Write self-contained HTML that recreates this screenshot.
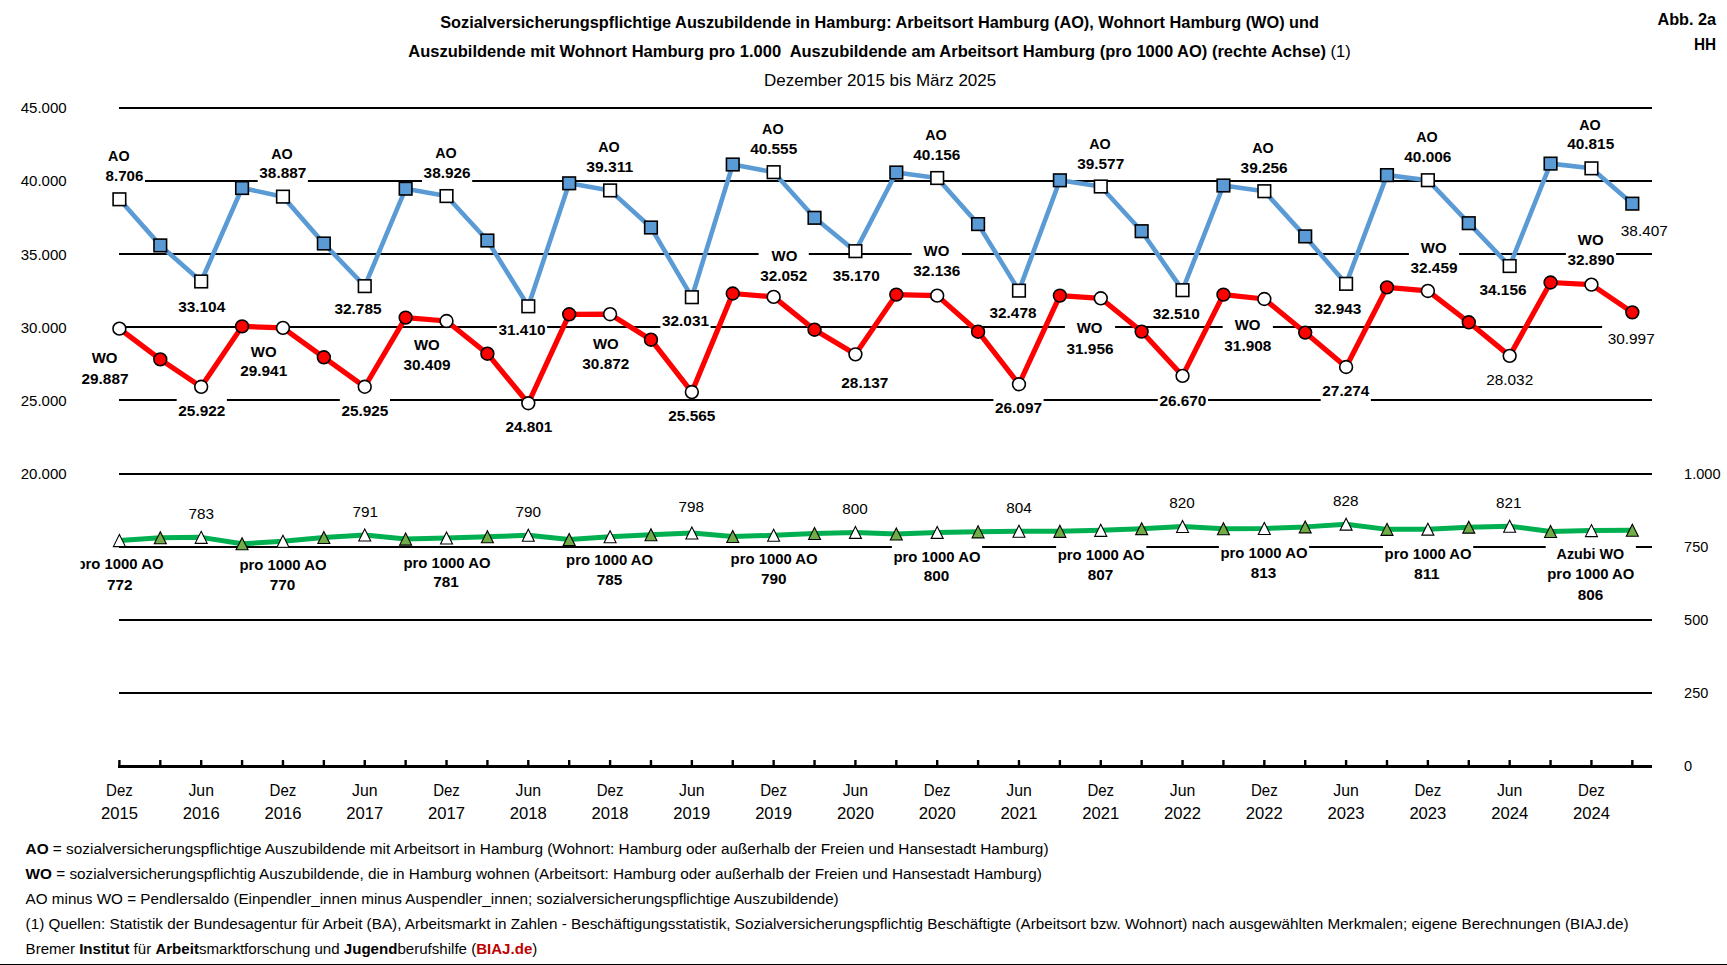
<!DOCTYPE html>
<html><head><meta charset="utf-8"><title>Abb. 2a HH</title>
<style>html,body{margin:0;padding:0;background:#fff;overflow:hidden}svg{display:block}text{font-family:"Liberation Sans",sans-serif}</style>
</head><body>
<svg width="1727" height="965" viewBox="0 0 1727 965" font-family="'Liberation Sans', sans-serif">
<defs><clipPath id="lc"><rect x="80.5" y="540" width="200" height="40"/></clipPath></defs>
<rect x="0" y="0" width="1727" height="965" fill="#fff"/>
<rect x="119" y="107" width="1533" height="2" fill="#000"/>
<rect x="119" y="180" width="1533" height="2" fill="#000"/>
<rect x="119" y="253" width="1533" height="2" fill="#000"/>
<rect x="119" y="326" width="1533" height="2" fill="#000"/>
<rect x="119" y="399" width="1533" height="2" fill="#000"/>
<rect x="119" y="473" width="1533" height="2" fill="#000"/>
<rect x="119" y="546" width="1533" height="2" fill="#000"/>
<rect x="119" y="619" width="1533" height="2" fill="#000"/>
<rect x="119" y="692" width="1533" height="2" fill="#000"/>
<rect x="104.0" y="145.2" width="41.0" height="40.5" fill="#fff"/>
<rect x="257.7" y="143.2" width="50.2" height="40.0" fill="#fff"/>
<rect x="422.0" y="142.6" width="50.2" height="39.9" fill="#fff"/>
<rect x="584.6" y="136.5" width="50.2" height="40.4" fill="#fff"/>
<rect x="748.6" y="118.4" width="50.2" height="40.4" fill="#fff"/>
<rect x="911.7" y="124.3" width="50.2" height="40.7" fill="#fff"/>
<rect x="1075.6" y="133.3" width="50.2" height="40.4" fill="#fff"/>
<rect x="1239.0" y="137.4" width="50.2" height="40.1" fill="#fff"/>
<rect x="1402.7" y="126.7" width="50.2" height="40.2" fill="#fff"/>
<rect x="1565.6" y="114.0" width="50.2" height="40.3" fill="#fff"/>
<rect x="1619.2" y="217.3" width="50.2" height="23.5" fill="#fff"/>
<rect x="176.6" y="293.1" width="50.2" height="23.5" fill="#fff"/>
<rect x="332.9" y="295.4" width="50.2" height="23.5" fill="#fff"/>
<rect x="496.9" y="316.7" width="50.2" height="23.5" fill="#fff"/>
<rect x="660.4" y="307.0" width="50.2" height="23.5" fill="#fff"/>
<rect x="831.1" y="262.1" width="50.2" height="23.5" fill="#fff"/>
<rect x="987.9" y="299.7" width="50.2" height="23.5" fill="#fff"/>
<rect x="1151.1" y="300.7" width="50.2" height="23.5" fill="#fff"/>
<rect x="1312.8" y="295.0" width="50.2" height="23.5" fill="#fff"/>
<rect x="1477.9" y="276.7" width="50.2" height="23.5" fill="#fff"/>
<rect x="79.9" y="347.4" width="50.2" height="41.1" fill="#fff"/>
<rect x="238.6" y="341.0" width="50.2" height="40.4" fill="#fff"/>
<rect x="401.9" y="334.0" width="50.2" height="40.5" fill="#fff"/>
<rect x="580.7" y="333.1" width="50.2" height="40.5" fill="#fff"/>
<rect x="758.6" y="245.2" width="50.2" height="40.4" fill="#fff"/>
<rect x="911.7" y="240.9" width="50.2" height="40.1" fill="#fff"/>
<rect x="1064.9" y="317.9" width="50.2" height="40.8" fill="#fff"/>
<rect x="1222.7" y="314.5" width="50.2" height="41.2" fill="#fff"/>
<rect x="1408.9" y="237.0" width="50.2" height="40.8" fill="#fff"/>
<rect x="1565.9" y="229.8" width="50.2" height="40.6" fill="#fff"/>
<rect x="1602.1" y="325.4" width="58.2" height="23.5" fill="#fff"/>
<rect x="176.7" y="397.9" width="50.2" height="23.5" fill="#fff"/>
<rect x="339.8" y="397.5" width="50.2" height="23.5" fill="#fff"/>
<rect x="503.8" y="413.8" width="50.2" height="23.5" fill="#fff"/>
<rect x="666.7" y="402.8" width="50.2" height="23.5" fill="#fff"/>
<rect x="839.7" y="369.2" width="50.2" height="23.5" fill="#fff"/>
<rect x="993.4" y="394.2" width="50.2" height="23.5" fill="#fff"/>
<rect x="1157.8" y="387.4" width="50.2" height="23.5" fill="#fff"/>
<rect x="1320.7" y="377.7" width="50.2" height="23.5" fill="#fff"/>
<rect x="1484.6" y="366.8" width="50.2" height="23.5" fill="#fff"/>
<rect x="75.0" y="553.4" width="90.0" height="41.3" fill="#fff"/>
<rect x="186.8" y="500.6" width="28.7" height="23.5" fill="#fff"/>
<rect x="350.8" y="498.2" width="28.7" height="23.5" fill="#fff"/>
<rect x="513.9" y="498.1" width="28.7" height="23.5" fill="#fff"/>
<rect x="676.9" y="493.9" width="28.7" height="23.5" fill="#fff"/>
<rect x="840.8" y="495.1" width="28.7" height="23.5" fill="#fff"/>
<rect x="1004.6" y="494.3" width="28.7" height="23.5" fill="#fff"/>
<rect x="1167.7" y="489.0" width="28.7" height="23.5" fill="#fff"/>
<rect x="1331.5" y="487.5" width="28.7" height="23.5" fill="#fff"/>
<rect x="1494.4" y="489.0" width="28.7" height="23.5" fill="#fff"/>
<rect x="237.9" y="554.5" width="90.2" height="40.7" fill="#fff"/>
<rect x="401.9" y="552.2" width="90.2" height="40.2" fill="#fff"/>
<rect x="564.5" y="549.7" width="90.2" height="40.7" fill="#fff"/>
<rect x="729.0" y="548.3" width="90.2" height="40.9" fill="#fff"/>
<rect x="891.9" y="546.0" width="90.2" height="39.9" fill="#fff"/>
<rect x="1056.1" y="544.3" width="90.2" height="40.4" fill="#fff"/>
<rect x="1218.9" y="542.3" width="90.2" height="40.7" fill="#fff"/>
<rect x="1383.0" y="543.8" width="90.2" height="39.8" fill="#fff"/>
<rect x="1545.7" y="543.8" width="90.2" height="61.3" fill="#fff"/>
<rect x="118" y="765" width="1534" height="3" fill="#000"/>
<rect x="118.20" y="760" width="2.4" height="6" fill="#000"/>
<rect x="159.09" y="760" width="2.4" height="6" fill="#000"/>
<rect x="199.98" y="760" width="2.4" height="6" fill="#000"/>
<rect x="240.87" y="760" width="2.4" height="6" fill="#000"/>
<rect x="281.76" y="760" width="2.4" height="6" fill="#000"/>
<rect x="322.65" y="760" width="2.4" height="6" fill="#000"/>
<rect x="363.54" y="760" width="2.4" height="6" fill="#000"/>
<rect x="404.43" y="760" width="2.4" height="6" fill="#000"/>
<rect x="445.32" y="760" width="2.4" height="6" fill="#000"/>
<rect x="486.21" y="760" width="2.4" height="6" fill="#000"/>
<rect x="527.10" y="760" width="2.4" height="6" fill="#000"/>
<rect x="567.99" y="760" width="2.4" height="6" fill="#000"/>
<rect x="608.88" y="760" width="2.4" height="6" fill="#000"/>
<rect x="649.77" y="760" width="2.4" height="6" fill="#000"/>
<rect x="690.66" y="760" width="2.4" height="6" fill="#000"/>
<rect x="731.55" y="760" width="2.4" height="6" fill="#000"/>
<rect x="772.44" y="760" width="2.4" height="6" fill="#000"/>
<rect x="813.33" y="760" width="2.4" height="6" fill="#000"/>
<rect x="854.22" y="760" width="2.4" height="6" fill="#000"/>
<rect x="895.11" y="760" width="2.4" height="6" fill="#000"/>
<rect x="936.00" y="760" width="2.4" height="6" fill="#000"/>
<rect x="976.89" y="760" width="2.4" height="6" fill="#000"/>
<rect x="1017.78" y="760" width="2.4" height="6" fill="#000"/>
<rect x="1058.67" y="760" width="2.4" height="6" fill="#000"/>
<rect x="1099.56" y="760" width="2.4" height="6" fill="#000"/>
<rect x="1140.45" y="760" width="2.4" height="6" fill="#000"/>
<rect x="1181.34" y="760" width="2.4" height="6" fill="#000"/>
<rect x="1222.23" y="760" width="2.4" height="6" fill="#000"/>
<rect x="1263.12" y="760" width="2.4" height="6" fill="#000"/>
<rect x="1304.01" y="760" width="2.4" height="6" fill="#000"/>
<rect x="1344.90" y="760" width="2.4" height="6" fill="#000"/>
<rect x="1385.79" y="760" width="2.4" height="6" fill="#000"/>
<rect x="1426.68" y="760" width="2.4" height="6" fill="#000"/>
<rect x="1467.57" y="760" width="2.4" height="6" fill="#000"/>
<rect x="1508.46" y="760" width="2.4" height="6" fill="#000"/>
<rect x="1549.35" y="760" width="2.4" height="6" fill="#000"/>
<rect x="1590.24" y="760" width="2.4" height="6" fill="#000"/>
<rect x="1631.13" y="760" width="2.4" height="6" fill="#000"/>
<polyline points="119.40,199.28 160.29,245.40 201.18,281.46 242.07,188.00 282.96,196.63 323.85,243.50 364.74,286.14 405.63,188.70 446.52,196.06 487.41,240.50 528.30,306.32 569.19,183.30 610.08,190.41 650.97,227.50 691.86,297.21 732.75,164.50 773.64,172.16 814.53,217.80 855.42,251.16 896.31,172.50 937.20,178.01 978.09,224.10 1018.98,290.65 1059.87,180.30 1100.76,186.51 1141.65,231.20 1182.54,290.18 1223.43,185.50 1264.32,191.21 1305.21,236.40 1346.10,283.83 1386.99,175.10 1427.88,180.21 1468.77,223.20 1509.66,266.03 1550.55,163.60 1591.44,168.34 1632.33,203.67" fill="none" stroke="#5B9BD5" stroke-width="4.6" stroke-linejoin="round" stroke-linecap="round"/>
<polyline points="119.40,328.66 160.29,359.40 201.18,386.82 242.07,326.40 282.96,327.87 323.85,357.30 364.74,386.78 405.63,317.60 446.52,321.00 487.41,353.70 528.30,403.27 569.19,314.30 610.08,314.21 650.97,339.70 691.86,392.06 732.75,293.50 773.64,296.90 814.53,329.70 855.42,354.33 896.31,294.60 937.20,295.66 978.09,331.70 1018.98,384.26 1059.87,295.60 1100.76,298.31 1141.65,331.60 1182.54,375.85 1223.43,294.60 1264.32,299.01 1305.21,332.60 1346.10,366.99 1386.99,287.40 1427.88,290.93 1468.77,322.30 1509.66,355.87 1550.55,282.50 1591.44,284.60 1632.33,312.37" fill="none" stroke="#FF0000" stroke-width="5.2" stroke-linejoin="round" stroke-linecap="round"/>
<polyline points="119.40,540.60 160.29,537.81 201.18,537.37 242.07,543.82 282.96,541.18 323.85,537.47 364.74,535.02 405.63,539.09 446.52,537.95 487.41,536.77 528.30,535.31 569.19,539.54 610.08,536.78 650.97,534.71 691.86,532.97 732.75,536.51 773.64,535.31 814.53,533.47 855.42,532.38 896.31,533.95 937.20,532.38 978.09,531.84 1018.98,531.21 1059.87,531.35 1100.76,530.33 1141.65,528.67 1182.54,526.51 1223.43,528.74 1264.32,528.57 1305.21,526.88 1346.10,524.16 1386.99,529.36 1427.88,529.15 1468.77,527.16 1509.66,526.22 1550.55,531.50 1591.44,530.62 1632.33,530.31" fill="none" stroke="#00B050" stroke-width="5" stroke-linejoin="round" stroke-linecap="round"/>
<rect x="113.10" y="192.98" width="12.6" height="12.6" fill="#fff" stroke="#000" stroke-width="1.6"/>
<rect x="153.99" y="239.10" width="12.6" height="12.6" fill="#5B9BD5" stroke="#000" stroke-width="1.6"/>
<rect x="194.88" y="275.16" width="12.6" height="12.6" fill="#fff" stroke="#000" stroke-width="1.6"/>
<rect x="235.77" y="181.70" width="12.6" height="12.6" fill="#5B9BD5" stroke="#000" stroke-width="1.6"/>
<rect x="276.66" y="190.33" width="12.6" height="12.6" fill="#fff" stroke="#000" stroke-width="1.6"/>
<rect x="317.55" y="237.20" width="12.6" height="12.6" fill="#5B9BD5" stroke="#000" stroke-width="1.6"/>
<rect x="358.44" y="279.84" width="12.6" height="12.6" fill="#fff" stroke="#000" stroke-width="1.6"/>
<rect x="399.33" y="182.40" width="12.6" height="12.6" fill="#5B9BD5" stroke="#000" stroke-width="1.6"/>
<rect x="440.22" y="189.76" width="12.6" height="12.6" fill="#fff" stroke="#000" stroke-width="1.6"/>
<rect x="481.11" y="234.20" width="12.6" height="12.6" fill="#5B9BD5" stroke="#000" stroke-width="1.6"/>
<rect x="522.00" y="300.02" width="12.6" height="12.6" fill="#fff" stroke="#000" stroke-width="1.6"/>
<rect x="562.89" y="177.00" width="12.6" height="12.6" fill="#5B9BD5" stroke="#000" stroke-width="1.6"/>
<rect x="603.78" y="184.11" width="12.6" height="12.6" fill="#fff" stroke="#000" stroke-width="1.6"/>
<rect x="644.67" y="221.20" width="12.6" height="12.6" fill="#5B9BD5" stroke="#000" stroke-width="1.6"/>
<rect x="685.56" y="290.91" width="12.6" height="12.6" fill="#fff" stroke="#000" stroke-width="1.6"/>
<rect x="726.45" y="158.20" width="12.6" height="12.6" fill="#5B9BD5" stroke="#000" stroke-width="1.6"/>
<rect x="767.34" y="165.86" width="12.6" height="12.6" fill="#fff" stroke="#000" stroke-width="1.6"/>
<rect x="808.23" y="211.50" width="12.6" height="12.6" fill="#5B9BD5" stroke="#000" stroke-width="1.6"/>
<rect x="849.12" y="244.86" width="12.6" height="12.6" fill="#fff" stroke="#000" stroke-width="1.6"/>
<rect x="890.01" y="166.20" width="12.6" height="12.6" fill="#5B9BD5" stroke="#000" stroke-width="1.6"/>
<rect x="930.90" y="171.71" width="12.6" height="12.6" fill="#fff" stroke="#000" stroke-width="1.6"/>
<rect x="971.79" y="217.80" width="12.6" height="12.6" fill="#5B9BD5" stroke="#000" stroke-width="1.6"/>
<rect x="1012.68" y="284.35" width="12.6" height="12.6" fill="#fff" stroke="#000" stroke-width="1.6"/>
<rect x="1053.57" y="174.00" width="12.6" height="12.6" fill="#5B9BD5" stroke="#000" stroke-width="1.6"/>
<rect x="1094.46" y="180.21" width="12.6" height="12.6" fill="#fff" stroke="#000" stroke-width="1.6"/>
<rect x="1135.35" y="224.90" width="12.6" height="12.6" fill="#5B9BD5" stroke="#000" stroke-width="1.6"/>
<rect x="1176.24" y="283.88" width="12.6" height="12.6" fill="#fff" stroke="#000" stroke-width="1.6"/>
<rect x="1217.13" y="179.20" width="12.6" height="12.6" fill="#5B9BD5" stroke="#000" stroke-width="1.6"/>
<rect x="1258.02" y="184.91" width="12.6" height="12.6" fill="#fff" stroke="#000" stroke-width="1.6"/>
<rect x="1298.91" y="230.10" width="12.6" height="12.6" fill="#5B9BD5" stroke="#000" stroke-width="1.6"/>
<rect x="1339.80" y="277.53" width="12.6" height="12.6" fill="#fff" stroke="#000" stroke-width="1.6"/>
<rect x="1380.69" y="168.80" width="12.6" height="12.6" fill="#5B9BD5" stroke="#000" stroke-width="1.6"/>
<rect x="1421.58" y="173.91" width="12.6" height="12.6" fill="#fff" stroke="#000" stroke-width="1.6"/>
<rect x="1462.47" y="216.90" width="12.6" height="12.6" fill="#5B9BD5" stroke="#000" stroke-width="1.6"/>
<rect x="1503.36" y="259.73" width="12.6" height="12.6" fill="#fff" stroke="#000" stroke-width="1.6"/>
<rect x="1544.25" y="157.30" width="12.6" height="12.6" fill="#5B9BD5" stroke="#000" stroke-width="1.6"/>
<rect x="1585.14" y="162.04" width="12.6" height="12.6" fill="#fff" stroke="#000" stroke-width="1.6"/>
<rect x="1626.03" y="197.37" width="12.6" height="12.6" fill="#5B9BD5" stroke="#000" stroke-width="1.6"/>
<circle cx="119.40" cy="328.66" r="6.4" fill="#fff" stroke="#000" stroke-width="1.6"/>
<circle cx="160.29" cy="359.40" r="6.4" fill="#FF0000" stroke="#000" stroke-width="1.6"/>
<circle cx="201.18" cy="386.82" r="6.4" fill="#fff" stroke="#000" stroke-width="1.6"/>
<circle cx="242.07" cy="326.40" r="6.4" fill="#FF0000" stroke="#000" stroke-width="1.6"/>
<circle cx="282.96" cy="327.87" r="6.4" fill="#fff" stroke="#000" stroke-width="1.6"/>
<circle cx="323.85" cy="357.30" r="6.4" fill="#FF0000" stroke="#000" stroke-width="1.6"/>
<circle cx="364.74" cy="386.78" r="6.4" fill="#fff" stroke="#000" stroke-width="1.6"/>
<circle cx="405.63" cy="317.60" r="6.4" fill="#FF0000" stroke="#000" stroke-width="1.6"/>
<circle cx="446.52" cy="321.00" r="6.4" fill="#fff" stroke="#000" stroke-width="1.6"/>
<circle cx="487.41" cy="353.70" r="6.4" fill="#FF0000" stroke="#000" stroke-width="1.6"/>
<circle cx="528.30" cy="403.27" r="6.4" fill="#fff" stroke="#000" stroke-width="1.6"/>
<circle cx="569.19" cy="314.30" r="6.4" fill="#FF0000" stroke="#000" stroke-width="1.6"/>
<circle cx="610.08" cy="314.21" r="6.4" fill="#fff" stroke="#000" stroke-width="1.6"/>
<circle cx="650.97" cy="339.70" r="6.4" fill="#FF0000" stroke="#000" stroke-width="1.6"/>
<circle cx="691.86" cy="392.06" r="6.4" fill="#fff" stroke="#000" stroke-width="1.6"/>
<circle cx="732.75" cy="293.50" r="6.4" fill="#FF0000" stroke="#000" stroke-width="1.6"/>
<circle cx="773.64" cy="296.90" r="6.4" fill="#fff" stroke="#000" stroke-width="1.6"/>
<circle cx="814.53" cy="329.70" r="6.4" fill="#FF0000" stroke="#000" stroke-width="1.6"/>
<circle cx="855.42" cy="354.33" r="6.4" fill="#fff" stroke="#000" stroke-width="1.6"/>
<circle cx="896.31" cy="294.60" r="6.4" fill="#FF0000" stroke="#000" stroke-width="1.6"/>
<circle cx="937.20" cy="295.66" r="6.4" fill="#fff" stroke="#000" stroke-width="1.6"/>
<circle cx="978.09" cy="331.70" r="6.4" fill="#FF0000" stroke="#000" stroke-width="1.6"/>
<circle cx="1018.98" cy="384.26" r="6.4" fill="#fff" stroke="#000" stroke-width="1.6"/>
<circle cx="1059.87" cy="295.60" r="6.4" fill="#FF0000" stroke="#000" stroke-width="1.6"/>
<circle cx="1100.76" cy="298.31" r="6.4" fill="#fff" stroke="#000" stroke-width="1.6"/>
<circle cx="1141.65" cy="331.60" r="6.4" fill="#FF0000" stroke="#000" stroke-width="1.6"/>
<circle cx="1182.54" cy="375.85" r="6.4" fill="#fff" stroke="#000" stroke-width="1.6"/>
<circle cx="1223.43" cy="294.60" r="6.4" fill="#FF0000" stroke="#000" stroke-width="1.6"/>
<circle cx="1264.32" cy="299.01" r="6.4" fill="#fff" stroke="#000" stroke-width="1.6"/>
<circle cx="1305.21" cy="332.60" r="6.4" fill="#FF0000" stroke="#000" stroke-width="1.6"/>
<circle cx="1346.10" cy="366.99" r="6.4" fill="#fff" stroke="#000" stroke-width="1.6"/>
<circle cx="1386.99" cy="287.40" r="6.4" fill="#FF0000" stroke="#000" stroke-width="1.6"/>
<circle cx="1427.88" cy="290.93" r="6.4" fill="#fff" stroke="#000" stroke-width="1.6"/>
<circle cx="1468.77" cy="322.30" r="6.4" fill="#FF0000" stroke="#000" stroke-width="1.6"/>
<circle cx="1509.66" cy="355.87" r="6.4" fill="#fff" stroke="#000" stroke-width="1.6"/>
<circle cx="1550.55" cy="282.50" r="6.4" fill="#FF0000" stroke="#000" stroke-width="1.6"/>
<circle cx="1591.44" cy="284.60" r="6.4" fill="#fff" stroke="#000" stroke-width="1.6"/>
<circle cx="1632.33" cy="312.37" r="6.4" fill="#FF0000" stroke="#000" stroke-width="1.6"/>
<path d="M119.40 534.60L125.40 546.60L113.40 546.60Z" fill="#fff" stroke="#000" stroke-width="1.1" stroke-linejoin="miter"/>
<path d="M160.29 531.81L166.29 543.81L154.29 543.81Z" fill="#70AD47" stroke="#000" stroke-width="1.1" stroke-linejoin="miter"/>
<path d="M201.18 531.37L207.18 543.37L195.18 543.37Z" fill="#fff" stroke="#000" stroke-width="1.1" stroke-linejoin="miter"/>
<path d="M242.07 537.82L248.07 549.82L236.07 549.82Z" fill="#70AD47" stroke="#000" stroke-width="1.1" stroke-linejoin="miter"/>
<path d="M282.96 535.18L288.96 547.18L276.96 547.18Z" fill="#fff" stroke="#000" stroke-width="1.1" stroke-linejoin="miter"/>
<path d="M323.85 531.47L329.85 543.47L317.85 543.47Z" fill="#70AD47" stroke="#000" stroke-width="1.1" stroke-linejoin="miter"/>
<path d="M364.74 529.02L370.74 541.02L358.74 541.02Z" fill="#fff" stroke="#000" stroke-width="1.1" stroke-linejoin="miter"/>
<path d="M405.63 533.09L411.63 545.09L399.63 545.09Z" fill="#70AD47" stroke="#000" stroke-width="1.1" stroke-linejoin="miter"/>
<path d="M446.52 531.95L452.52 543.95L440.52 543.95Z" fill="#fff" stroke="#000" stroke-width="1.1" stroke-linejoin="miter"/>
<path d="M487.41 530.77L493.41 542.77L481.41 542.77Z" fill="#70AD47" stroke="#000" stroke-width="1.1" stroke-linejoin="miter"/>
<path d="M528.30 529.31L534.30 541.31L522.30 541.31Z" fill="#fff" stroke="#000" stroke-width="1.1" stroke-linejoin="miter"/>
<path d="M569.19 533.54L575.19 545.54L563.19 545.54Z" fill="#70AD47" stroke="#000" stroke-width="1.1" stroke-linejoin="miter"/>
<path d="M610.08 530.78L616.08 542.78L604.08 542.78Z" fill="#fff" stroke="#000" stroke-width="1.1" stroke-linejoin="miter"/>
<path d="M650.97 528.71L656.97 540.71L644.97 540.71Z" fill="#70AD47" stroke="#000" stroke-width="1.1" stroke-linejoin="miter"/>
<path d="M691.86 526.97L697.86 538.97L685.86 538.97Z" fill="#fff" stroke="#000" stroke-width="1.1" stroke-linejoin="miter"/>
<path d="M732.75 530.51L738.75 542.51L726.75 542.51Z" fill="#70AD47" stroke="#000" stroke-width="1.1" stroke-linejoin="miter"/>
<path d="M773.64 529.31L779.64 541.31L767.64 541.31Z" fill="#fff" stroke="#000" stroke-width="1.1" stroke-linejoin="miter"/>
<path d="M814.53 527.47L820.53 539.47L808.53 539.47Z" fill="#70AD47" stroke="#000" stroke-width="1.1" stroke-linejoin="miter"/>
<path d="M855.42 526.38L861.42 538.38L849.42 538.38Z" fill="#fff" stroke="#000" stroke-width="1.1" stroke-linejoin="miter"/>
<path d="M896.31 527.95L902.31 539.95L890.31 539.95Z" fill="#70AD47" stroke="#000" stroke-width="1.1" stroke-linejoin="miter"/>
<path d="M937.20 526.38L943.20 538.38L931.20 538.38Z" fill="#fff" stroke="#000" stroke-width="1.1" stroke-linejoin="miter"/>
<path d="M978.09 525.84L984.09 537.84L972.09 537.84Z" fill="#70AD47" stroke="#000" stroke-width="1.1" stroke-linejoin="miter"/>
<path d="M1018.98 525.21L1024.98 537.21L1012.98 537.21Z" fill="#fff" stroke="#000" stroke-width="1.1" stroke-linejoin="miter"/>
<path d="M1059.87 525.35L1065.87 537.35L1053.87 537.35Z" fill="#70AD47" stroke="#000" stroke-width="1.1" stroke-linejoin="miter"/>
<path d="M1100.76 524.33L1106.76 536.33L1094.76 536.33Z" fill="#fff" stroke="#000" stroke-width="1.1" stroke-linejoin="miter"/>
<path d="M1141.65 522.67L1147.65 534.67L1135.65 534.67Z" fill="#70AD47" stroke="#000" stroke-width="1.1" stroke-linejoin="miter"/>
<path d="M1182.54 520.51L1188.54 532.51L1176.54 532.51Z" fill="#fff" stroke="#000" stroke-width="1.1" stroke-linejoin="miter"/>
<path d="M1223.43 522.74L1229.43 534.74L1217.43 534.74Z" fill="#70AD47" stroke="#000" stroke-width="1.1" stroke-linejoin="miter"/>
<path d="M1264.32 522.57L1270.32 534.57L1258.32 534.57Z" fill="#fff" stroke="#000" stroke-width="1.1" stroke-linejoin="miter"/>
<path d="M1305.21 520.88L1311.21 532.88L1299.21 532.88Z" fill="#70AD47" stroke="#000" stroke-width="1.1" stroke-linejoin="miter"/>
<path d="M1346.10 518.16L1352.10 530.16L1340.10 530.16Z" fill="#fff" stroke="#000" stroke-width="1.1" stroke-linejoin="miter"/>
<path d="M1386.99 523.36L1392.99 535.36L1380.99 535.36Z" fill="#70AD47" stroke="#000" stroke-width="1.1" stroke-linejoin="miter"/>
<path d="M1427.88 523.15L1433.88 535.15L1421.88 535.15Z" fill="#fff" stroke="#000" stroke-width="1.1" stroke-linejoin="miter"/>
<path d="M1468.77 521.16L1474.77 533.16L1462.77 533.16Z" fill="#70AD47" stroke="#000" stroke-width="1.1" stroke-linejoin="miter"/>
<path d="M1509.66 520.22L1515.66 532.22L1503.66 532.22Z" fill="#fff" stroke="#000" stroke-width="1.1" stroke-linejoin="miter"/>
<path d="M1550.55 525.50L1556.55 537.50L1544.55 537.50Z" fill="#70AD47" stroke="#000" stroke-width="1.1" stroke-linejoin="miter"/>
<path d="M1591.44 524.62L1597.44 536.62L1585.44 536.62Z" fill="#fff" stroke="#000" stroke-width="1.1" stroke-linejoin="miter"/>
<path d="M1632.33 524.31L1638.33 536.31L1626.33 536.31Z" fill="#70AD47" stroke="#000" stroke-width="1.1" stroke-linejoin="miter"/>
<text x="118.80" y="160.70" font-size="15.20" font-weight="bold" text-anchor="middle" fill="#000" textLength="21.50" lengthAdjust="spacingAndGlyphs">AO</text>
<text x="124.50" y="180.70" font-size="15.20" font-weight="bold" text-anchor="middle" fill="#000" textLength="37.80" lengthAdjust="spacingAndGlyphs">8.706</text>
<text x="281.90" y="158.70" font-size="15.20" font-weight="bold" text-anchor="middle" fill="#000" textLength="21.50" lengthAdjust="spacingAndGlyphs">AO</text>
<text x="282.80" y="178.20" font-size="15.20" font-weight="bold" text-anchor="middle" fill="#000" textLength="47.00" lengthAdjust="spacingAndGlyphs">38.887</text>
<text x="446.00" y="158.10" font-size="15.20" font-weight="bold" text-anchor="middle" fill="#000" textLength="21.50" lengthAdjust="spacingAndGlyphs">AO</text>
<text x="447.10" y="177.50" font-size="15.20" font-weight="bold" text-anchor="middle" fill="#000" textLength="47.00" lengthAdjust="spacingAndGlyphs">38.926</text>
<text x="609.00" y="152.00" font-size="15.20" font-weight="bold" text-anchor="middle" fill="#000" textLength="21.50" lengthAdjust="spacingAndGlyphs">AO</text>
<text x="609.70" y="171.90" font-size="15.20" font-weight="bold" text-anchor="middle" fill="#000" textLength="47.00" lengthAdjust="spacingAndGlyphs">39.311</text>
<text x="772.80" y="133.90" font-size="15.20" font-weight="bold" text-anchor="middle" fill="#000" textLength="21.50" lengthAdjust="spacingAndGlyphs">AO</text>
<text x="773.70" y="153.80" font-size="15.20" font-weight="bold" text-anchor="middle" fill="#000" textLength="47.00" lengthAdjust="spacingAndGlyphs">40.555</text>
<text x="936.00" y="139.80" font-size="15.20" font-weight="bold" text-anchor="middle" fill="#000" textLength="21.50" lengthAdjust="spacingAndGlyphs">AO</text>
<text x="936.80" y="160.00" font-size="15.20" font-weight="bold" text-anchor="middle" fill="#000" textLength="47.00" lengthAdjust="spacingAndGlyphs">40.156</text>
<text x="1100.00" y="148.80" font-size="15.20" font-weight="bold" text-anchor="middle" fill="#000" textLength="21.50" lengthAdjust="spacingAndGlyphs">AO</text>
<text x="1100.70" y="168.70" font-size="15.20" font-weight="bold" text-anchor="middle" fill="#000" textLength="47.00" lengthAdjust="spacingAndGlyphs">39.577</text>
<text x="1263.00" y="152.90" font-size="15.20" font-weight="bold" text-anchor="middle" fill="#000" textLength="21.50" lengthAdjust="spacingAndGlyphs">AO</text>
<text x="1264.10" y="172.50" font-size="15.20" font-weight="bold" text-anchor="middle" fill="#000" textLength="47.00" lengthAdjust="spacingAndGlyphs">39.256</text>
<text x="1427.00" y="142.20" font-size="15.20" font-weight="bold" text-anchor="middle" fill="#000" textLength="21.50" lengthAdjust="spacingAndGlyphs">AO</text>
<text x="1427.80" y="161.90" font-size="15.20" font-weight="bold" text-anchor="middle" fill="#000" textLength="47.00" lengthAdjust="spacingAndGlyphs">40.006</text>
<text x="1590.00" y="129.50" font-size="15.20" font-weight="bold" text-anchor="middle" fill="#000" textLength="21.50" lengthAdjust="spacingAndGlyphs">AO</text>
<text x="1590.70" y="149.30" font-size="15.20" font-weight="bold" text-anchor="middle" fill="#000" textLength="47.00" lengthAdjust="spacingAndGlyphs">40.815</text>
<text x="1644.30" y="235.80" font-size="15.20" text-anchor="middle" fill="#000" textLength="47.00" lengthAdjust="spacingAndGlyphs">38.407</text>
<text x="201.70" y="311.60" font-size="15.20" font-weight="bold" text-anchor="middle" fill="#000" textLength="47.00" lengthAdjust="spacingAndGlyphs">33.104</text>
<text x="358.00" y="313.90" font-size="15.20" font-weight="bold" text-anchor="middle" fill="#000" textLength="47.00" lengthAdjust="spacingAndGlyphs">32.785</text>
<text x="522.00" y="335.20" font-size="15.20" font-weight="bold" text-anchor="middle" fill="#000" textLength="47.00" lengthAdjust="spacingAndGlyphs">31.410</text>
<text x="685.50" y="325.50" font-size="15.20" font-weight="bold" text-anchor="middle" fill="#000" textLength="47.00" lengthAdjust="spacingAndGlyphs">32.031</text>
<text x="856.20" y="280.60" font-size="15.20" font-weight="bold" text-anchor="middle" fill="#000" textLength="47.00" lengthAdjust="spacingAndGlyphs">35.170</text>
<text x="1013.00" y="318.20" font-size="15.20" font-weight="bold" text-anchor="middle" fill="#000" textLength="47.00" lengthAdjust="spacingAndGlyphs">32.478</text>
<text x="1176.20" y="319.20" font-size="15.20" font-weight="bold" text-anchor="middle" fill="#000" textLength="47.00" lengthAdjust="spacingAndGlyphs">32.510</text>
<text x="1337.90" y="313.50" font-size="15.20" font-weight="bold" text-anchor="middle" fill="#000" textLength="47.00" lengthAdjust="spacingAndGlyphs">32.943</text>
<text x="1503.00" y="295.20" font-size="15.20" font-weight="bold" text-anchor="middle" fill="#000" textLength="47.00" lengthAdjust="spacingAndGlyphs">34.156</text>
<text x="104.60" y="362.90" font-size="15.20" font-weight="bold" text-anchor="middle" fill="#000" textLength="25.80" lengthAdjust="spacingAndGlyphs">WO</text>
<text x="105.00" y="383.50" font-size="15.20" font-weight="bold" text-anchor="middle" fill="#000" textLength="47.00" lengthAdjust="spacingAndGlyphs">29.887</text>
<text x="263.70" y="356.50" font-size="15.20" font-weight="bold" text-anchor="middle" fill="#000" textLength="25.80" lengthAdjust="spacingAndGlyphs">WO</text>
<text x="263.70" y="376.40" font-size="15.20" font-weight="bold" text-anchor="middle" fill="#000" textLength="47.00" lengthAdjust="spacingAndGlyphs">29.941</text>
<text x="426.80" y="349.50" font-size="15.20" font-weight="bold" text-anchor="middle" fill="#000" textLength="25.80" lengthAdjust="spacingAndGlyphs">WO</text>
<text x="427.00" y="369.50" font-size="15.20" font-weight="bold" text-anchor="middle" fill="#000" textLength="47.00" lengthAdjust="spacingAndGlyphs">30.409</text>
<text x="605.80" y="348.60" font-size="15.20" font-weight="bold" text-anchor="middle" fill="#000" textLength="25.80" lengthAdjust="spacingAndGlyphs">WO</text>
<text x="605.80" y="368.60" font-size="15.20" font-weight="bold" text-anchor="middle" fill="#000" textLength="47.00" lengthAdjust="spacingAndGlyphs">30.872</text>
<text x="784.50" y="260.70" font-size="15.20" font-weight="bold" text-anchor="middle" fill="#000" textLength="25.80" lengthAdjust="spacingAndGlyphs">WO</text>
<text x="783.70" y="280.60" font-size="15.20" font-weight="bold" text-anchor="middle" fill="#000" textLength="47.00" lengthAdjust="spacingAndGlyphs">32.052</text>
<text x="936.50" y="256.40" font-size="15.20" font-weight="bold" text-anchor="middle" fill="#000" textLength="25.80" lengthAdjust="spacingAndGlyphs">WO</text>
<text x="936.80" y="276.00" font-size="15.20" font-weight="bold" text-anchor="middle" fill="#000" textLength="47.00" lengthAdjust="spacingAndGlyphs">32.136</text>
<text x="1089.60" y="333.40" font-size="15.20" font-weight="bold" text-anchor="middle" fill="#000" textLength="25.80" lengthAdjust="spacingAndGlyphs">WO</text>
<text x="1090.00" y="353.70" font-size="15.20" font-weight="bold" text-anchor="middle" fill="#000" textLength="47.00" lengthAdjust="spacingAndGlyphs">31.956</text>
<text x="1247.60" y="330.00" font-size="15.20" font-weight="bold" text-anchor="middle" fill="#000" textLength="25.80" lengthAdjust="spacingAndGlyphs">WO</text>
<text x="1247.80" y="350.70" font-size="15.20" font-weight="bold" text-anchor="middle" fill="#000" textLength="47.00" lengthAdjust="spacingAndGlyphs">31.908</text>
<text x="1433.70" y="252.50" font-size="15.20" font-weight="bold" text-anchor="middle" fill="#000" textLength="25.80" lengthAdjust="spacingAndGlyphs">WO</text>
<text x="1434.00" y="272.80" font-size="15.20" font-weight="bold" text-anchor="middle" fill="#000" textLength="47.00" lengthAdjust="spacingAndGlyphs">32.459</text>
<text x="1590.70" y="245.30" font-size="15.20" font-weight="bold" text-anchor="middle" fill="#000" textLength="25.80" lengthAdjust="spacingAndGlyphs">WO</text>
<text x="1591.00" y="265.40" font-size="15.20" font-weight="bold" text-anchor="middle" fill="#000" textLength="47.00" lengthAdjust="spacingAndGlyphs">32.890</text>
<text x="1631.20" y="343.90" font-size="15.20" text-anchor="middle" fill="#000" textLength="47.00" lengthAdjust="spacingAndGlyphs">30.997</text>
<text x="201.80" y="416.40" font-size="15.20" font-weight="bold" text-anchor="middle" fill="#000" textLength="47.00" lengthAdjust="spacingAndGlyphs">25.922</text>
<text x="364.90" y="416.00" font-size="15.20" font-weight="bold" text-anchor="middle" fill="#000" textLength="47.00" lengthAdjust="spacingAndGlyphs">25.925</text>
<text x="528.90" y="432.30" font-size="15.20" font-weight="bold" text-anchor="middle" fill="#000" textLength="47.00" lengthAdjust="spacingAndGlyphs">24.801</text>
<text x="691.80" y="421.30" font-size="15.20" font-weight="bold" text-anchor="middle" fill="#000" textLength="47.00" lengthAdjust="spacingAndGlyphs">25.565</text>
<text x="864.80" y="387.70" font-size="15.20" font-weight="bold" text-anchor="middle" fill="#000" textLength="47.00" lengthAdjust="spacingAndGlyphs">28.137</text>
<text x="1018.50" y="412.70" font-size="15.20" font-weight="bold" text-anchor="middle" fill="#000" textLength="47.00" lengthAdjust="spacingAndGlyphs">26.097</text>
<text x="1182.90" y="405.90" font-size="15.20" font-weight="bold" text-anchor="middle" fill="#000" textLength="47.00" lengthAdjust="spacingAndGlyphs">26.670</text>
<text x="1345.80" y="396.20" font-size="15.20" font-weight="bold" text-anchor="middle" fill="#000" textLength="47.00" lengthAdjust="spacingAndGlyphs">27.274</text>
<text x="1509.70" y="385.30" font-size="15.20" text-anchor="middle" fill="#000" textLength="47.00" lengthAdjust="spacingAndGlyphs">28.032</text>
<text x="120.00" y="568.90" font-size="15.20" font-weight="bold" text-anchor="middle" fill="#000" textLength="87.00" lengthAdjust="spacingAndGlyphs" clip-path="url(#lc)">pro 1000 AO</text>
<text x="119.80" y="589.70" font-size="15.20" font-weight="bold" text-anchor="middle" fill="#000" textLength="25.50" lengthAdjust="spacingAndGlyphs">772</text>
<text x="201.20" y="519.10" font-size="15.20" text-anchor="middle" fill="#000" textLength="25.50" lengthAdjust="spacingAndGlyphs">783</text>
<text x="365.20" y="516.70" font-size="15.20" text-anchor="middle" fill="#000" textLength="25.50" lengthAdjust="spacingAndGlyphs">791</text>
<text x="528.20" y="516.60" font-size="15.20" text-anchor="middle" fill="#000" textLength="25.50" lengthAdjust="spacingAndGlyphs">790</text>
<text x="691.30" y="512.40" font-size="15.20" text-anchor="middle" fill="#000" textLength="25.50" lengthAdjust="spacingAndGlyphs">798</text>
<text x="855.10" y="513.60" font-size="15.20" text-anchor="middle" fill="#000" textLength="25.50" lengthAdjust="spacingAndGlyphs">800</text>
<text x="1019.00" y="512.80" font-size="15.20" text-anchor="middle" fill="#000" textLength="25.50" lengthAdjust="spacingAndGlyphs">804</text>
<text x="1182.00" y="507.50" font-size="15.20" text-anchor="middle" fill="#000" textLength="25.50" lengthAdjust="spacingAndGlyphs">820</text>
<text x="1345.80" y="506.00" font-size="15.20" text-anchor="middle" fill="#000" textLength="25.50" lengthAdjust="spacingAndGlyphs">828</text>
<text x="1508.70" y="507.50" font-size="15.20" text-anchor="middle" fill="#000" textLength="25.50" lengthAdjust="spacingAndGlyphs">821</text>
<text x="283.00" y="570.00" font-size="15.20" font-weight="bold" text-anchor="middle" fill="#000" textLength="87.00" lengthAdjust="spacingAndGlyphs">pro 1000 AO</text>
<text x="282.60" y="590.20" font-size="15.20" font-weight="bold" text-anchor="middle" fill="#000" textLength="25.50" lengthAdjust="spacingAndGlyphs">770</text>
<text x="447.00" y="567.70" font-size="15.20" font-weight="bold" text-anchor="middle" fill="#000" textLength="87.00" lengthAdjust="spacingAndGlyphs">pro 1000 AO</text>
<text x="446.10" y="587.40" font-size="15.20" font-weight="bold" text-anchor="middle" fill="#000" textLength="25.50" lengthAdjust="spacingAndGlyphs">781</text>
<text x="609.60" y="565.20" font-size="15.20" font-weight="bold" text-anchor="middle" fill="#000" textLength="87.00" lengthAdjust="spacingAndGlyphs">pro 1000 AO</text>
<text x="609.60" y="585.40" font-size="15.20" font-weight="bold" text-anchor="middle" fill="#000" textLength="25.50" lengthAdjust="spacingAndGlyphs">785</text>
<text x="774.10" y="563.80" font-size="15.20" font-weight="bold" text-anchor="middle" fill="#000" textLength="87.00" lengthAdjust="spacingAndGlyphs">pro 1000 AO</text>
<text x="773.70" y="584.20" font-size="15.20" font-weight="bold" text-anchor="middle" fill="#000" textLength="25.50" lengthAdjust="spacingAndGlyphs">790</text>
<text x="937.00" y="561.50" font-size="15.20" font-weight="bold" text-anchor="middle" fill="#000" textLength="87.00" lengthAdjust="spacingAndGlyphs">pro 1000 AO</text>
<text x="936.50" y="580.90" font-size="15.20" font-weight="bold" text-anchor="middle" fill="#000" textLength="25.50" lengthAdjust="spacingAndGlyphs">800</text>
<text x="1101.20" y="559.80" font-size="15.20" font-weight="bold" text-anchor="middle" fill="#000" textLength="87.00" lengthAdjust="spacingAndGlyphs">pro 1000 AO</text>
<text x="1100.50" y="579.70" font-size="15.20" font-weight="bold" text-anchor="middle" fill="#000" textLength="25.50" lengthAdjust="spacingAndGlyphs">807</text>
<text x="1264.00" y="557.80" font-size="15.20" font-weight="bold" text-anchor="middle" fill="#000" textLength="87.00" lengthAdjust="spacingAndGlyphs">pro 1000 AO</text>
<text x="1263.40" y="578.00" font-size="15.20" font-weight="bold" text-anchor="middle" fill="#000" textLength="25.50" lengthAdjust="spacingAndGlyphs">813</text>
<text x="1428.10" y="559.30" font-size="15.20" font-weight="bold" text-anchor="middle" fill="#000" textLength="87.00" lengthAdjust="spacingAndGlyphs">pro 1000 AO</text>
<text x="1426.80" y="578.60" font-size="15.20" font-weight="bold" text-anchor="middle" fill="#000" textLength="25.50" lengthAdjust="spacingAndGlyphs">811</text>
<text x="1590.40" y="559.30" font-size="15.20" font-weight="bold" text-anchor="middle" fill="#000" textLength="67.60" lengthAdjust="spacingAndGlyphs">Azubi WO</text>
<text x="1590.80" y="579.40" font-size="15.20" font-weight="bold" text-anchor="middle" fill="#000" textLength="87.00" lengthAdjust="spacingAndGlyphs">pro 1000 AO</text>
<text x="1590.50" y="600.10" font-size="15.20" font-weight="bold" text-anchor="middle" fill="#000" textLength="25.50" lengthAdjust="spacingAndGlyphs">806</text>
<text x="66.70" y="113.30" font-size="15.50" text-anchor="end" fill="#000" textLength="46.00" lengthAdjust="spacingAndGlyphs">45.000</text>
<text x="66.70" y="186.40" font-size="15.50" text-anchor="end" fill="#000" textLength="46.00" lengthAdjust="spacingAndGlyphs">40.000</text>
<text x="66.70" y="259.50" font-size="15.50" text-anchor="end" fill="#000" textLength="46.00" lengthAdjust="spacingAndGlyphs">35.000</text>
<text x="66.70" y="332.60" font-size="15.50" text-anchor="end" fill="#000" textLength="46.00" lengthAdjust="spacingAndGlyphs">30.000</text>
<text x="66.70" y="405.70" font-size="15.50" text-anchor="end" fill="#000" textLength="46.00" lengthAdjust="spacingAndGlyphs">25.000</text>
<text x="66.70" y="478.80" font-size="15.50" text-anchor="end" fill="#000" textLength="46.00" lengthAdjust="spacingAndGlyphs">20.000</text>
<text x="1684.10" y="478.90" font-size="15.50" text-anchor="start" fill="#000" textLength="36.50" lengthAdjust="spacingAndGlyphs">1.000</text>
<text x="1684.10" y="551.90" font-size="15.50" text-anchor="start" fill="#000" textLength="24.20" lengthAdjust="spacingAndGlyphs">750</text>
<text x="1684.10" y="624.90" font-size="15.50" text-anchor="start" fill="#000" textLength="24.20" lengthAdjust="spacingAndGlyphs">500</text>
<text x="1684.10" y="697.90" font-size="15.50" text-anchor="start" fill="#000" textLength="24.20" lengthAdjust="spacingAndGlyphs">250</text>
<text x="1684.10" y="770.90" font-size="15.50" text-anchor="start" fill="#000" textLength="8.10" lengthAdjust="spacingAndGlyphs">0</text>
<text x="119.40" y="795.90" font-size="16.90" text-anchor="middle" fill="#000" textLength="26.70" lengthAdjust="spacingAndGlyphs">Dez</text>
<text x="119.40" y="818.80" font-size="16.90" text-anchor="middle" fill="#000" textLength="37.00" lengthAdjust="spacingAndGlyphs">2015</text>
<text x="201.18" y="795.90" font-size="16.90" text-anchor="middle" fill="#000" textLength="25.50" lengthAdjust="spacingAndGlyphs">Jun</text>
<text x="201.18" y="818.80" font-size="16.90" text-anchor="middle" fill="#000" textLength="37.00" lengthAdjust="spacingAndGlyphs">2016</text>
<text x="282.96" y="795.90" font-size="16.90" text-anchor="middle" fill="#000" textLength="26.70" lengthAdjust="spacingAndGlyphs">Dez</text>
<text x="282.96" y="818.80" font-size="16.90" text-anchor="middle" fill="#000" textLength="37.00" lengthAdjust="spacingAndGlyphs">2016</text>
<text x="364.74" y="795.90" font-size="16.90" text-anchor="middle" fill="#000" textLength="25.50" lengthAdjust="spacingAndGlyphs">Jun</text>
<text x="364.74" y="818.80" font-size="16.90" text-anchor="middle" fill="#000" textLength="37.00" lengthAdjust="spacingAndGlyphs">2017</text>
<text x="446.52" y="795.90" font-size="16.90" text-anchor="middle" fill="#000" textLength="26.70" lengthAdjust="spacingAndGlyphs">Dez</text>
<text x="446.52" y="818.80" font-size="16.90" text-anchor="middle" fill="#000" textLength="37.00" lengthAdjust="spacingAndGlyphs">2017</text>
<text x="528.30" y="795.90" font-size="16.90" text-anchor="middle" fill="#000" textLength="25.50" lengthAdjust="spacingAndGlyphs">Jun</text>
<text x="528.30" y="818.80" font-size="16.90" text-anchor="middle" fill="#000" textLength="37.00" lengthAdjust="spacingAndGlyphs">2018</text>
<text x="610.08" y="795.90" font-size="16.90" text-anchor="middle" fill="#000" textLength="26.70" lengthAdjust="spacingAndGlyphs">Dez</text>
<text x="610.08" y="818.80" font-size="16.90" text-anchor="middle" fill="#000" textLength="37.00" lengthAdjust="spacingAndGlyphs">2018</text>
<text x="691.86" y="795.90" font-size="16.90" text-anchor="middle" fill="#000" textLength="25.50" lengthAdjust="spacingAndGlyphs">Jun</text>
<text x="691.86" y="818.80" font-size="16.90" text-anchor="middle" fill="#000" textLength="37.00" lengthAdjust="spacingAndGlyphs">2019</text>
<text x="773.64" y="795.90" font-size="16.90" text-anchor="middle" fill="#000" textLength="26.70" lengthAdjust="spacingAndGlyphs">Dez</text>
<text x="773.64" y="818.80" font-size="16.90" text-anchor="middle" fill="#000" textLength="37.00" lengthAdjust="spacingAndGlyphs">2019</text>
<text x="855.42" y="795.90" font-size="16.90" text-anchor="middle" fill="#000" textLength="25.50" lengthAdjust="spacingAndGlyphs">Jun</text>
<text x="855.42" y="818.80" font-size="16.90" text-anchor="middle" fill="#000" textLength="37.00" lengthAdjust="spacingAndGlyphs">2020</text>
<text x="937.20" y="795.90" font-size="16.90" text-anchor="middle" fill="#000" textLength="26.70" lengthAdjust="spacingAndGlyphs">Dez</text>
<text x="937.20" y="818.80" font-size="16.90" text-anchor="middle" fill="#000" textLength="37.00" lengthAdjust="spacingAndGlyphs">2020</text>
<text x="1018.98" y="795.90" font-size="16.90" text-anchor="middle" fill="#000" textLength="25.50" lengthAdjust="spacingAndGlyphs">Jun</text>
<text x="1018.98" y="818.80" font-size="16.90" text-anchor="middle" fill="#000" textLength="37.00" lengthAdjust="spacingAndGlyphs">2021</text>
<text x="1100.76" y="795.90" font-size="16.90" text-anchor="middle" fill="#000" textLength="26.70" lengthAdjust="spacingAndGlyphs">Dez</text>
<text x="1100.76" y="818.80" font-size="16.90" text-anchor="middle" fill="#000" textLength="37.00" lengthAdjust="spacingAndGlyphs">2021</text>
<text x="1182.54" y="795.90" font-size="16.90" text-anchor="middle" fill="#000" textLength="25.50" lengthAdjust="spacingAndGlyphs">Jun</text>
<text x="1182.54" y="818.80" font-size="16.90" text-anchor="middle" fill="#000" textLength="37.00" lengthAdjust="spacingAndGlyphs">2022</text>
<text x="1264.32" y="795.90" font-size="16.90" text-anchor="middle" fill="#000" textLength="26.70" lengthAdjust="spacingAndGlyphs">Dez</text>
<text x="1264.32" y="818.80" font-size="16.90" text-anchor="middle" fill="#000" textLength="37.00" lengthAdjust="spacingAndGlyphs">2022</text>
<text x="1346.10" y="795.90" font-size="16.90" text-anchor="middle" fill="#000" textLength="25.50" lengthAdjust="spacingAndGlyphs">Jun</text>
<text x="1346.10" y="818.80" font-size="16.90" text-anchor="middle" fill="#000" textLength="37.00" lengthAdjust="spacingAndGlyphs">2023</text>
<text x="1427.88" y="795.90" font-size="16.90" text-anchor="middle" fill="#000" textLength="26.70" lengthAdjust="spacingAndGlyphs">Dez</text>
<text x="1427.88" y="818.80" font-size="16.90" text-anchor="middle" fill="#000" textLength="37.00" lengthAdjust="spacingAndGlyphs">2023</text>
<text x="1509.66" y="795.90" font-size="16.90" text-anchor="middle" fill="#000" textLength="25.50" lengthAdjust="spacingAndGlyphs">Jun</text>
<text x="1509.66" y="818.80" font-size="16.90" text-anchor="middle" fill="#000" textLength="37.00" lengthAdjust="spacingAndGlyphs">2024</text>
<text x="1591.44" y="795.90" font-size="16.90" text-anchor="middle" fill="#000" textLength="26.70" lengthAdjust="spacingAndGlyphs">Dez</text>
<text x="1591.44" y="818.80" font-size="16.90" text-anchor="middle" fill="#000" textLength="37.00" lengthAdjust="spacingAndGlyphs">2024</text>
<text x="879.60" y="27.90" font-size="17.30" font-weight="bold" text-anchor="middle" fill="#000" textLength="878.80" lengthAdjust="spacingAndGlyphs">Sozialversicherungspflichtige Auszubildende in Hamburg: Arbeitsort Hamburg (AO), Wohnort Hamburg (WO) und</text>
<text x="408.30" y="57.10" font-size="17.30" font-weight="bold" fill="#000" textLength="917.65" lengthAdjust="spacingAndGlyphs" style="white-space:pre">Auszubildende mit Wohnort Hamburg pro 1.000  Auszubildende am Arbeitsort Hamburg (pro 1000 AO) (rechte Achse)</text>
<text x="1325.95" y="57.10" font-size="17.30" fill="#000" textLength="24.75" lengthAdjust="spacingAndGlyphs" style="white-space:pre"> (1)</text>
<text x="880.10" y="85.90" font-size="17.20" text-anchor="middle" fill="#000" textLength="232.20" lengthAdjust="spacingAndGlyphs">Dezember 2015 bis März 2025</text>
<text x="1716.10" y="24.90" font-size="17.30" font-weight="bold" text-anchor="end" fill="#000" textLength="58.70" lengthAdjust="spacingAndGlyphs">Abb. 2a</text>
<text x="1716.10" y="49.75" font-size="17.30" font-weight="bold" text-anchor="end" fill="#000" textLength="22.10" lengthAdjust="spacingAndGlyphs">HH</text>
<text x="25.60" y="853.80" font-size="15.40" font-weight="bold" fill="#000" textLength="23.02" lengthAdjust="spacingAndGlyphs" style="white-space:pre">AO</text>
<text x="48.62" y="853.80" font-size="15.40" fill="#000" textLength="999.88" lengthAdjust="spacingAndGlyphs" style="white-space:pre"> = sozialversicherungspflichtige Auszubildende mit Arbeitsort in Hamburg (Wohnort: Hamburg oder außerhalb der Freien und Hansestadt Hamburg)</text>
<text x="25.60" y="878.80" font-size="15.40" font-weight="bold" fill="#000" textLength="26.35" lengthAdjust="spacingAndGlyphs" style="white-space:pre">WO</text>
<text x="51.95" y="878.80" font-size="15.40" fill="#000" textLength="989.85" lengthAdjust="spacingAndGlyphs" style="white-space:pre"> = sozialversicherungspflichtig Auszubildende, die in Hamburg wohnen (Arbeitsort: Hamburg oder außerhalb der Freien und Hansestadt Hamburg)</text>
<text x="25.60" y="903.70" font-size="15.40" fill="#000" textLength="813.10" lengthAdjust="spacingAndGlyphs" style="white-space:pre">AO minus WO = Pendlersaldo (Einpendler_innen minus Auspendler_innen; sozialversicherungspflichtige Auszubildende)</text>
<text x="25.60" y="928.50" font-size="15.40" fill="#000" textLength="1603.00" lengthAdjust="spacingAndGlyphs" style="white-space:pre">(1) Quellen: Statistik der Bundesagentur für Arbeit (BA), Arbeitsmarkt in Zahlen - Beschäftigungsstatistik, Sozialversicherungspflichtig Beschäftigte (Arbeitsort bzw. Wohnort) nach ausgewählten Merkmalen; eigene Berechnungen (BIAJ.de)</text>
<text x="25.60" y="953.50" font-size="15.40" fill="#000" textLength="53.60" lengthAdjust="spacingAndGlyphs" style="white-space:pre">Bremer </text>
<text x="79.20" y="953.50" font-size="15.40" font-weight="bold" fill="#000" textLength="50.23" lengthAdjust="spacingAndGlyphs" style="white-space:pre">Institut</text>
<text x="129.42" y="953.50" font-size="15.40" fill="#000" textLength="25.96" lengthAdjust="spacingAndGlyphs" style="white-space:pre"> für </text>
<text x="155.38" y="953.50" font-size="15.40" font-weight="bold" fill="#000" textLength="43.54" lengthAdjust="spacingAndGlyphs" style="white-space:pre">Arbeit</text>
<text x="198.92" y="953.50" font-size="15.40" fill="#000" textLength="144.92" lengthAdjust="spacingAndGlyphs" style="white-space:pre">smarktforschung und </text>
<text x="343.84" y="953.50" font-size="15.40" font-weight="bold" fill="#000" textLength="53.59" lengthAdjust="spacingAndGlyphs" style="white-space:pre">Jugend</text>
<text x="397.43" y="953.50" font-size="15.40" fill="#000" textLength="78.74" lengthAdjust="spacingAndGlyphs" style="white-space:pre">berufshilfe (</text>
<text x="476.17" y="953.50" font-size="15.40" font-weight="bold" fill="#C00000" textLength="56.11" lengthAdjust="spacingAndGlyphs" style="white-space:pre">BIAJ.de</text>
<text x="532.28" y="953.50" font-size="15.40" fill="#000" textLength="5.02" lengthAdjust="spacingAndGlyphs" style="white-space:pre">)</text>
<rect x="0" y="964" width="1727" height="1" fill="#000"/>
</svg>
</body></html>
